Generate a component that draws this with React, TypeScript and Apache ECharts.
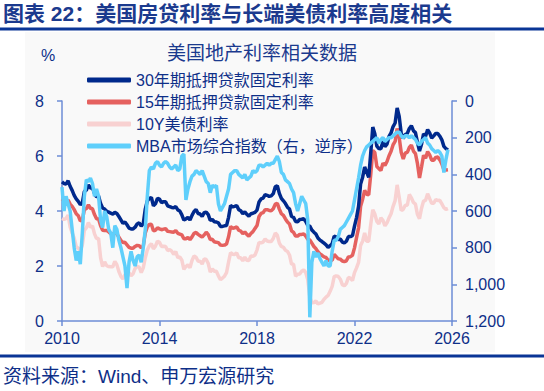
import React, { useEffect, useRef } from "react";
import * as echarts from "echarts";

const START_YEAR = 2010;
const xTicks = [2010, 2014, 2018, 2022, 2026];
const leftTicks = [0, 2, 4, 6, 8];
const rightTicks = [0, 200, 400, 600, 800, 1000, 1200];

const names = [
  "30年期抵押贷款固定利率",
  "15年期抵押贷款固定利率",
  "10Y美债利率",
  "MBA市场综合指数（右，逆序）",
];

// monthly, Jan 2010 .. Nov 2025
const mort30 = [
  5.06, 5.0, 4.98, 5.1, 4.9, 4.75, 4.57, 4.44, 4.35, 4.23, 4.3, 4.71,
  4.76, 4.95, 4.84, 4.84, 4.64, 4.51, 4.55, 4.27, 4.11, 4.07, 3.99, 3.96,
  3.92, 3.89, 3.95, 3.91, 3.8, 3.68, 3.55, 3.6, 3.5, 3.38, 3.35, 3.35,
  3.41, 3.53, 3.57, 3.45, 3.54, 4.07, 4.37, 4.46, 4.49, 4.19, 4.26, 4.46,
  4.43, 4.3, 4.34, 4.34, 4.19, 4.16, 4.13, 4.12, 4.16, 4.04, 4.0, 3.86,
  3.67, 3.71, 3.77, 3.67, 3.84, 3.98, 4.05, 3.91, 3.89, 3.8, 3.94, 3.96,
  3.87, 3.66, 3.69, 3.61, 3.6, 3.57, 3.44, 3.44, 3.46, 3.47, 3.77, 4.2,
  4.15, 4.17, 4.2, 4.05, 4.01, 3.9, 3.97, 3.88, 3.81, 3.9, 3.92, 3.95,
  4.03, 4.33, 4.44, 4.47, 4.59, 4.57, 4.53, 4.55, 4.63, 4.88, 4.92, 4.64,
  4.46, 4.37, 4.27, 4.14, 4.07, 3.8, 3.77, 3.62, 3.61, 3.69, 3.7, 3.72,
  3.62, 3.47, 3.45, 3.31, 3.23, 3.16, 3.02, 2.94, 2.89, 2.83, 2.77, 2.68,
  2.74, 2.81, 3.08, 3.06, 2.96, 2.98, 2.87, 2.84, 2.9, 3.07, 3.07, 3.1,
  3.45, 3.76, 4.17, 4.98, 5.23, 5.6, 5.41, 5.22, 6.11, 7.05, 6.81, 6.36,
  6.27, 6.26, 6.54, 6.34, 6.43, 6.71, 6.84, 7.07, 7.2, 7.75, 7.44, 6.82,
  6.64, 6.78, 6.82, 7.0, 7.1, 6.92, 6.85, 6.5, 6.18, 6.43, 6.81, 6.72,
  6.96, 6.84, 6.65, 6.73, 6.82, 6.82, 6.72, 6.59, 6.35, 6.27, 6.22,
];

const mort15 = [
  4.44, 4.36, 4.28, 4.4, 4.25, 4.17, 4.05, 3.9, 3.83, 3.64, 3.67, 4.05,
  4.09, 4.22, 4.1, 4.08, 3.87, 3.72, 3.71, 3.46, 3.3, 3.29, 3.29, 3.24,
  3.17, 3.14, 3.23, 3.17, 3.05, 2.93, 2.85, 2.86, 2.77, 2.68, 2.65, 2.65,
  2.71, 2.75, 2.74, 2.66, 2.73, 3.2, 3.42, 3.51, 3.52, 3.28, 3.3, 3.39,
  3.35, 3.32, 3.34, 3.36, 3.26, 3.25, 3.24, 3.23, 3.29, 3.19, 3.16, 3.13,
  2.99, 2.99, 3.04, 2.96, 3.06, 3.19, 3.22, 3.15, 3.1, 3.05, 3.13, 3.23,
  3.14, 2.96, 2.97, 2.88, 2.86, 2.85, 2.76, 2.75, 2.76, 2.8, 3.06, 3.44,
  3.37, 3.39, 3.42, 3.3, 3.27, 3.17, 3.24, 3.15, 3.08, 3.18, 3.25, 3.36,
  3.47, 3.8, 3.91, 3.94, 4.05, 4.05, 4.02, 4.01, 4.08, 4.25, 4.28, 4.07,
  3.9, 3.84, 3.71, 3.6, 3.53, 3.28, 3.22, 3.09, 3.09, 3.15, 3.15, 3.17,
  3.09, 2.97, 2.95, 2.83, 2.71, 2.63, 2.52, 2.44, 2.39, 2.33, 2.31, 2.21,
  2.21, 2.21, 2.42, 2.34, 2.26, 2.25, 2.18, 2.16, 2.19, 2.33, 2.34, 2.39,
  2.66, 3.03, 3.39, 4.17, 4.43, 4.75, 4.61, 4.59, 5.33, 6.2, 6.13, 5.62,
  5.54, 5.47, 5.74, 5.66, 5.8, 6.01, 6.17, 6.41, 6.53, 7.0, 6.67, 6.13,
  5.89, 6.11, 6.13, 6.31, 6.4, 6.18, 6.09, 5.72, 5.2, 5.6, 6.03, 5.92,
  6.16, 6.04, 5.85, 5.85, 5.95, 5.96, 5.86, 5.71, 5.5, 5.49, 5.5,
];

const ust10y = [
  3.73, 3.69, 3.73, 3.85, 3.42, 3.2, 3.01, 2.7, 2.65, 2.54, 2.76, 3.29,
  3.39, 3.58, 3.41, 3.46, 3.17, 3.0, 3.0, 2.3, 1.98, 2.15, 2.01, 1.98,
  1.97, 1.97, 2.17, 2.05, 1.8, 1.62, 1.53, 1.68, 1.72, 1.75, 1.65, 1.72,
  1.91, 1.98, 1.96, 1.76, 1.93, 2.3, 2.58, 2.74, 2.81, 2.62, 2.72, 2.9,
  2.86, 2.71, 2.72, 2.71, 2.56, 2.6, 2.54, 2.42, 2.53, 2.3, 2.33, 2.21,
  1.88, 1.98, 2.04, 1.94, 2.2, 2.36, 2.32, 2.17, 2.17, 2.07, 2.26, 2.24,
  2.09, 1.78, 1.89, 1.81, 1.81, 1.64, 1.5, 1.56, 1.63, 1.76, 2.14, 2.49,
  2.43, 2.42, 2.48, 2.3, 2.3, 2.19, 2.32, 2.21, 2.2, 2.36, 2.35, 2.4,
  2.58, 2.86, 2.84, 2.87, 2.98, 2.91, 2.89, 2.89, 3.0, 3.2, 3.12, 2.83,
  2.71, 2.68, 2.57, 2.53, 2.4, 2.07, 2.06, 1.63, 1.7, 1.71, 1.81, 1.86,
  1.76, 1.5, 0.87, 0.66, 0.67, 0.73, 0.62, 0.65, 0.68, 0.79, 0.87, 0.93,
  1.08, 1.26, 1.61, 1.64, 1.62, 1.52, 1.32, 1.28, 1.37, 1.58, 1.56, 1.47,
  1.76, 1.93, 2.13, 2.75, 2.9, 3.2, 2.9, 2.9, 3.52, 4.05, 3.89, 3.62,
  3.53, 3.75, 3.66, 3.46, 3.57, 3.75, 3.9, 4.17, 4.38, 4.95, 4.5, 4.02,
  4.06, 4.21, 4.21, 4.6, 4.48, 4.31, 4.25, 3.87, 3.72, 4.1, 4.36, 4.39,
  4.63, 4.45, 4.28, 4.28, 4.42, 4.38, 4.39, 4.26, 4.12, 4.06, 4.09,
];

const mbaIndex = [
  470, 600, 520, 560, 600, 700, 800, 870, 820, 890, 720, 520,
  430, 440, 420, 450, 520, 480, 520, 650, 690, 600, 630, 700,
  720, 800, 680, 700, 760, 800, 850, 900, 1020, 880, 820, 870,
  900, 850, 840, 880, 800, 700, 520, 380, 360, 370, 340, 330,
  350, 360, 340, 330, 340, 360, 370, 360, 350, 380, 370, 300,
  290, 540, 480, 440, 410, 400, 380, 390, 400, 380, 410, 440,
  450, 500, 460, 470, 460, 560, 600, 580, 560, 520, 480, 400,
  390, 380, 380, 400, 410, 420, 400, 430, 420, 410, 380, 390,
  380, 350, 350, 360, 350, 340, 350, 340, 340, 320, 300, 330,
  390, 400, 430, 440, 450, 480, 500, 560, 600, 560, 520, 540,
  560, 650, 1180, 880, 820, 850, 830, 860, 880, 900, 870, 900,
  900, 820, 760, 760, 740, 700, 690, 680, 660, 640, 620, 600,
  540, 480, 420, 350, 300, 270, 250, 240, 230, 220, 210, 200,
  230, 210, 200, 220, 210, 200, 200, 190, 180, 170, 170, 190,
  200, 190, 190, 200, 190, 200, 210, 230, 240, 220, 210, 200,
  230, 240, 260, 270, 280, 270, 280, 300, 390, 320, 265,
];

const colors = ["#00298c", "#e5615f", "#f8d1d1", "#5fcffb"];
const TXT = "#0e2f88";
const AXIS = "#6d8dd6";
const FONT = "'Liberation Sans', 'Noto Sans CJK SC', sans-serif";

const pairs = (vals: number[]) => vals.map((v, i) => [START_YEAR + i / 12, v]);

export default function App() {
  const ref = useRef<HTMLDivElement>(null);
  useEffect(() => {
    if (!ref.current) return;
    const chart = echarts.init(ref.current, undefined, { renderer: "svg" });
    const mk = (idx: number, vals: number[], yAxisIndex = 0) => ({
      name: names[idx],
      type: "line",
      yAxisIndex,
      data: pairs(vals),
      showSymbol: false,
      symbol: "none",
      lineStyle: { width: 3.5, color: colors[idx] },
      itemStyle: { color: colors[idx] },
    });
    chart.setOption({
      animation: false,
      textStyle: { fontFamily: FONT },
      graphic: [
        { type: "rect", shape: { x: 25, y: 32, width: 470, height: 320 }, style: { fill: "#f9f9f9" }, silent: true, z: -10 },
        {
          type: "text", left: 3, top: 3,
          style: { text: "图表 22：美国房贷利率与长端美债利率高度相关", fill: "#1b3a8e", font: `bold 21px ${FONT}` },
        },
        { type: "rect", shape: { x: 0, y: 27.5, width: 544, height: 3 }, style: { fill: "#0a3596" } },
        { type: "rect", shape: { x: 0, y: 354.5, width: 544, height: 3 }, style: { fill: "#0a3596" } },
        {
          type: "text", left: 3, top: 367,
          style: { text: "资料来源：Wind、申万宏源研究", fill: TXT, font: `19px ${FONT}` },
        },
        {
          type: "text", x: 48, y: 55,
          style: { text: "%", fill: TXT, font: `16px ${FONT}`, align: "center", verticalAlign: "middle" },
        },
        {
          type: "text", x: 262, y: 53,
          style: { text: "美国地产利率相关数据", fill: "#1b3a8e", font: `19px ${FONT}`, align: "center", verticalAlign: "middle" },
        },
      ],
      legend: {
        orient: "vertical",
        left: 82,
        top: 66,
        itemWidth: 44,
        itemHeight: 5,
        itemGap: 4,
        icon: "roundRect",
        data: names,
        textStyle: { color: TXT, fontSize: 16, lineHeight: 18, fontFamily: FONT },
      },
      grid: { left: 62, right: 92, top: 101, bottom: 70 },
      xAxis: {
        type: "value",
        min: xTicks[0],
        max: xTicks[xTicks.length - 1],
        interval: 4,
        axisLine: { onZero: false, lineStyle: { color: AXIS, width: 1.5 } },
        axisTick: { show: true, length: 5, lineStyle: { color: AXIS, width: 1.5 } },
        axisLabel: { color: TXT, fontSize: 16, margin: 9, formatter: (v: number) => String(v) },
        splitLine: { show: false },
      },
      yAxis: [
        {
          type: "value",
          min: leftTicks[0],
          max: leftTicks[leftTicks.length - 1],
          interval: 2,
          axisLine: { show: true, lineStyle: { color: AXIS, width: 1.5 } },
          axisTick: { show: true, length: 5, lineStyle: { color: AXIS, width: 1.5 } },
          axisLabel: { color: TXT, fontSize: 16, margin: 18 },
          splitLine: { show: false },
        },
        {
          type: "value",
          position: "right",
          inverse: true,
          min: rightTicks[0],
          max: rightTicks[rightTicks.length - 1],
          interval: 200,
          axisLine: { show: true, lineStyle: { color: AXIS, width: 1.5 } },
          axisTick: { show: true, length: 5, lineStyle: { color: AXIS, width: 1.5 } },
          axisLabel: { color: TXT, fontSize: 16, margin: 13, formatter: (v: number) => v.toLocaleString("en-US") },
          splitLine: { show: false },
        },
      ],
      series: [mk(2, ust10y), mk(1, mort15), mk(0, mort30), mk(3, mbaIndex, 1)],
    });
    return () => chart.dispose();
  }, []);
  return (
    <div
      ref={ref}
      style={{ position: "fixed", left: 0, top: 0, width: 544, height: 391, background: "#ffffff" }}
    />
  );
}
